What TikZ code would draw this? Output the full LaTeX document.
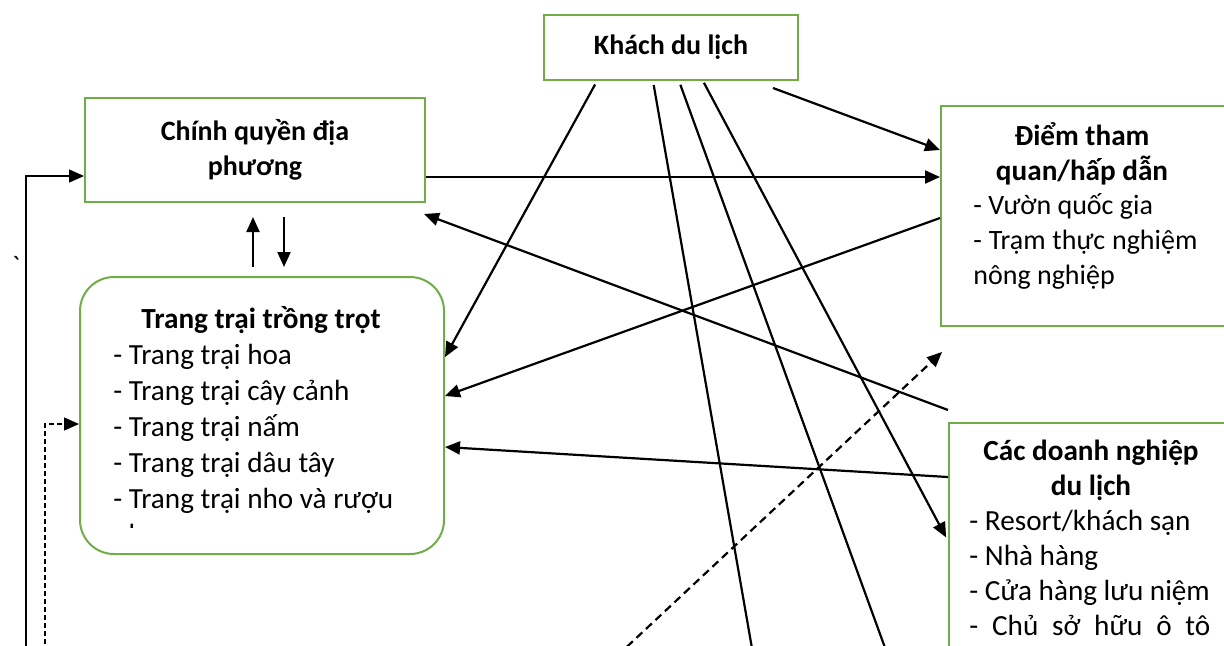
\documentclass[tikz,border=0pt]{standalone}
\usepackage{fontspec}
\setmainfont{Carlito}
\usetikzlibrary{arrows.meta}
\usetikzlibrary{calc}
\definecolor{boxgreen}{HTML}{70AD47}
\newcommand{\dfont}{\fontsize{14pt}{17.5pt}\selectfont}
\newcommand{\bigfont}{\fontsize{14.6pt}{17.5pt}\selectfont}

\begin{document}
\begin{tikzpicture}[x=0.5pt, y=-0.5pt, font=\dfont]
  \tikzstyle{box}=[rectangle, draw=boxgreen, line width=1pt, anchor=north west, inner sep=0pt]
  \tikzstyle{tbox}=[box, font=\dfont\bfseries, align=center]
  \tikzstyle{rbox}=[box, rounded corners=17pt]
  \tikzstyle{head}=[font=\bigfont\bfseries, align=center, inner sep=0pt, anchor=base]
  \tikzstyle{items}=[align=left, inner sep=0pt, anchor=base west]
  \tikzstyle{arr}=[-{Triangle[length=7.5pt, width=6.5pt]}, line width=1.1pt]

  \useasboundingbox (0,0) rectangle (1224,645);
  \clip (0,0) rectangle (1224,645);

  \node (khach) [tbox, minimum width=127pt, minimum height=32.5pt] at (543,14) {Khách du lịch};
  \node (chinh) [tbox, minimum width=170pt, minimum height=52pt] at (84,97) {Chính quyền địa\\phương};
  \node (trang) [rbox, minimum width=182pt, minimum height=138.5pt] at (79,276) {};
  \node (diem) [box, minimum width=150pt, minimum height=110pt] at (940,105) {};
  \node (doanh) [box, minimum width=150pt, minimum height=150pt] at (948,422) {};

  % multi-line nodes: base is the last line
  \node (trangtitle) [head] at (261,328) {Trang trại trồng trọt};
  \begin{scope}
    \clip (79,276) rectangle (443,527);
    \node (trangitems) [items, font=\fontsize{14.6pt}{18pt}\selectfont] at (113,544) {- Trang trại hoa\\- Trang trại cây cảnh\\- Trang trại nấm\\- Trang trại dâu tây\\- Trang trại nho và rượu\\nho};
  \end{scope}
  \node (diemtitle) [head] at (1082,180) {Điểm tham\\quan/hấp dẫn};
  \node (diemitems) [items] at (973,284) {- Vườn quốc gia\\\makebox[112pt][s]{- Trạm thực nghiệm}\\nông nghiệp};
  \node (doanhtitle) [head] at (1091,495) {Các doanh nghiệp\\du lịch};
  \node (doanhitems) [items, font=\bigfont] at (969,635) {- Resort/khách sạn\\- Nhà hàng\\- Cửa hàng lưu niệm\\\makebox[120.5pt][s]{- Chủ sở hữu ô tô}};
  \node (tick) at (16,266) {\textasciigrave};

  % ends below the visible part
  \coordinate (solidin) at (26,700);
  \coordinate (dashin) at (45,700);
  \coordinate (out1) at (761,700);
  \coordinate (out2) at (904,700);
  \coordinate (dashdiag) at (570,700);

  \draw[arr, line width=0.7pt] (solidin) |- (chinh.west |- 0,176);
  \draw[arr, line width=0.6pt, dash pattern=on 2.5pt off 1.5pt] (dashin) |- (trang.west |- 0,424);
  \draw[arr, shorten <=4.5pt, shorten >=7pt] (trang.north -| 253,0) -- (chinh.south -| 253,0);
  \draw[arr, shorten <=7pt, shorten >=4.5pt] (chinh.south -| 284,0) -- (trang.north -| 284,0);
  \draw[arr] (chinh.east |- 0,177) -- (diem.west |- 0,177);
  \draw[arr] ($(khach.south -| 773,0)+(0,7)$) -- (diem.west |- 0,150);
  \draw[arr, shorten <=2pt] (khach.south -| 597,0) -- (trang.east |- 0,357);
  \draw[arr] (diem.west |- 0,218) -- (trang.east |- 0,396);
  \draw[arr] ($(doanh.north west)+(0,-12)$) -- ($(chinh.south east)+(-2,11)$);
  \draw[arr] (doanh.west |- 0,477) -- (trang.east |- 0,447);
  \draw[arr, shorten <=1pt, shorten >=2pt] (khach.south -| 703,0) -- (doanh.west |- 0,541);
  \draw[arr, shorten <=2pt] (khach.south -| 653,0) -- (out1);
  \draw[arr, shorten <=2pt] (khach.south -| 679,0) -- (out2);
  \draw[arr, dash pattern=on 4pt off 2.5pt] (dashdiag) -- ($(diem.south west)+(2,25)$);
\end{tikzpicture}
\end{document}
